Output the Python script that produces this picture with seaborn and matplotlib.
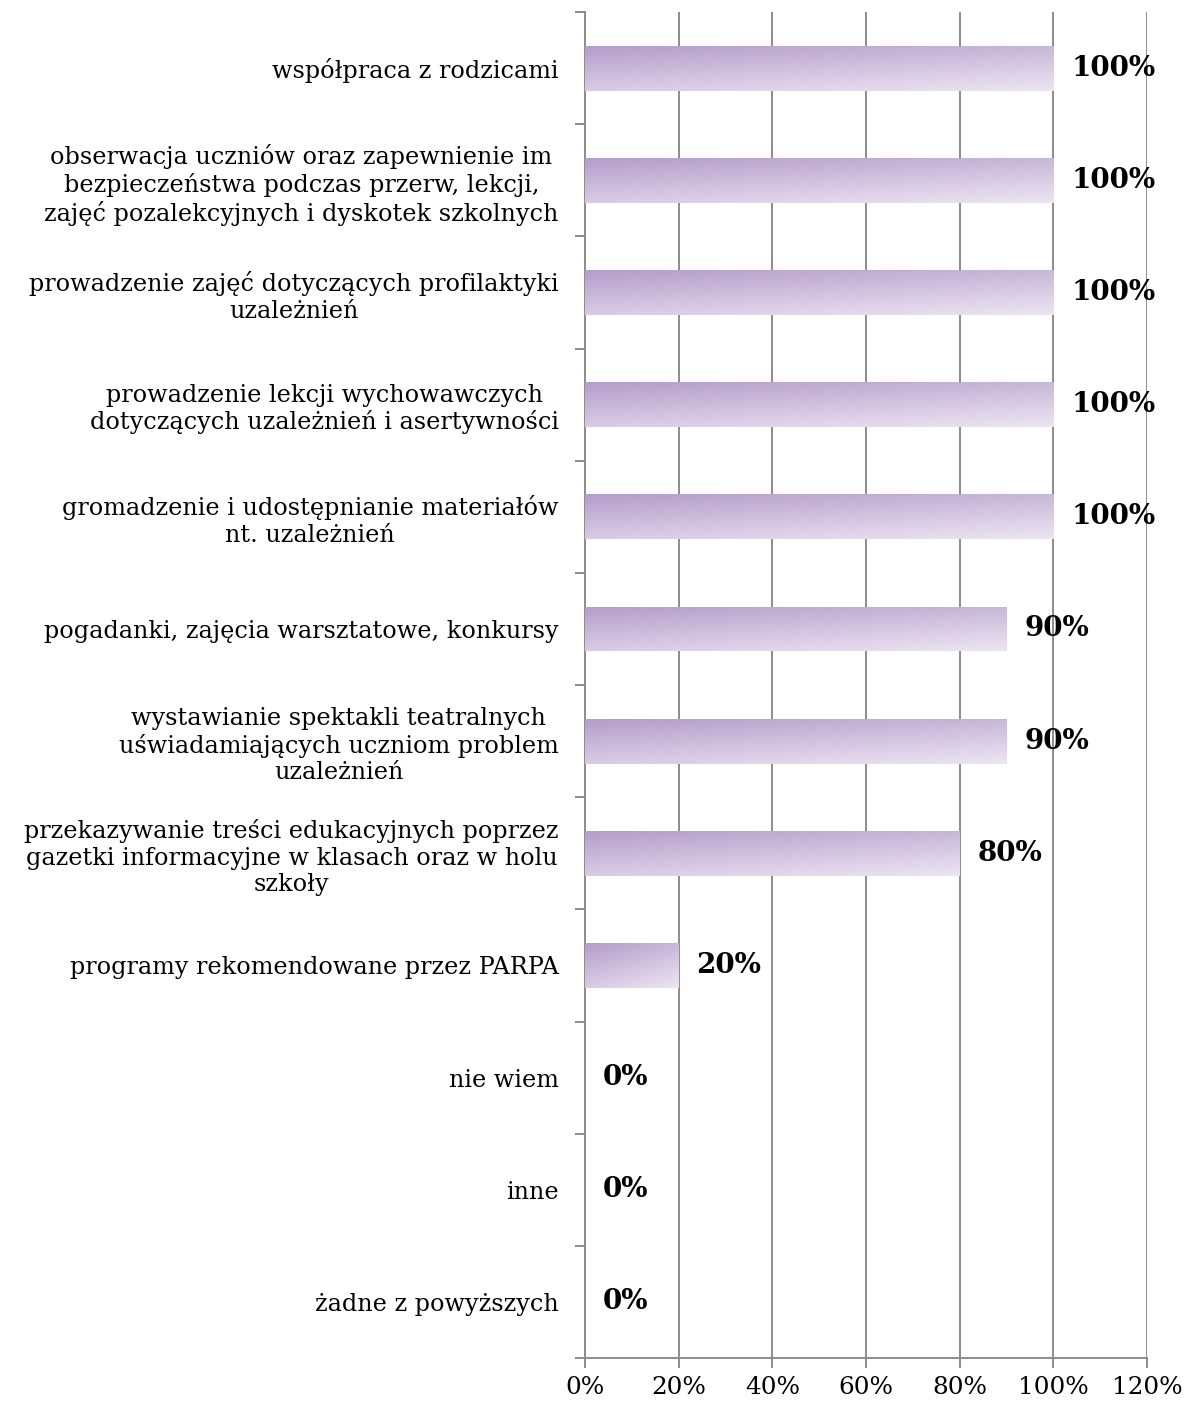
import matplotlib
matplotlib.use("Agg")
import matplotlib.pyplot as plt
from matplotlib.colors import LinearSegmentedColormap
import seaborn as sns
import numpy as np
import pandas as pd

# ── Data ──────────────────────────────────────────────
categories = [
    "współpraca z rodzicami",
    "obserwacja uczniów oraz zapewnienie im\nbezpieczeństwa podczas przerw, lekcji,\nzajęć pozalekcyjnych i dyskotek szkolnych",
    "prowadzenie zajęć dotyczących profilaktyki\nuzależnień",
    "prowadzenie lekcji wychowawczych\ndotyczących uzależnień i asertywności",
    "gromadzenie i udostępnianie materiałów\nnt. uzależnień",
    "pogadanki, zajęcia warsztatowe, konkursy",
    "wystawianie spektakli teatralnych\nuświadamiających uczniom problem\nuzależnień",
    "przekazywanie treści edukacyjnych poprzez\ngazetki informacyjne w klasach oraz w holu\nszkoły",
    "programy rekomendowane przez PARPA",
    "nie wiem",
    "inne",
    "żadne z powyższych",
]
values = [100, 100, 100, 100, 100, 90, 90, 80, 20, 0, 0, 0]
x_ticks = [0, 20, 40, 60, 80, 100, 120]
x_tick_labels = ["0%", "20%", "40%", "60%", "80%", "100%", "120%"]

df = pd.DataFrame({"category": categories, "value": values})

# ── Style ─────────────────────────────────────────────
sns.set_style("white")
plt.rcParams["font.family"] = ["DejaVu Serif"]
plt.rcParams["text.color"] = "black"
plt.rcParams["xtick.color"] = "black"
plt.rcParams["ytick.color"] = "black"
GRID = "#8c8c8c"
FS = 17.2

fig = plt.figure(figsize=(11.89, 14.07), dpi=100)
ax = fig.add_axes([0.492, 0.0348, 0.4727, 0.9566])

sns.barplot(data=df, x="value", y="category", orient="h", width=0.4,
            color="#c8b5d9", ax=ax, zorder=3)

# gradient fill clipped to each bar
cmap = LinearSegmentedColormap.from_list("purp", ["#b59dcb", "#ece5f2"])
gy, gx = np.mgrid[0:1:60j, 0:1:200j]
grad = 0.65 * gy + 0.35 * gx
for patch in ax.patches:
    w = patch.get_width()
    patch.set_facecolor("none")
    patch.set_edgecolor("none")
    patch.set_linewidth(0)
    if w <= 0:
        continue
    x0, y0, h = patch.get_x(), patch.get_y(), patch.get_height()
    im = ax.imshow(grad, extent=(x0, x0 + w, y0 + h, y0), origin="upper",
                   aspect="auto", cmap=cmap, vmin=0, vmax=1, zorder=3,
                   interpolation="bilinear")
    im.set_clip_path(patch)

# value labels
for i, v in enumerate(values):
    ax.text(v + 3.8, i, f"{v}%", va="center", ha="left",
            fontsize=20, fontweight="bold", zorder=4)

ax.set_xlim(0, 120)
ax.set_ylim(len(categories) - 0.5, -0.5)
ax.set_xticks(x_ticks)
ax.set_xticklabels(x_tick_labels, fontsize=17.8)
ax.set_yticks(range(len(categories)))
ax.set_yticklabels(categories, fontsize=FS, multialignment="center")
ax.set_yticks(np.arange(-0.5, len(categories), 1), minor=True)
ax.set_xlabel("")
ax.set_ylabel("")

ax.grid(axis="x", color=GRID, linewidth=1.4, zorder=0)
ax.set_axisbelow(True)
for side in ["top", "right"]:
    ax.spines[side].set_visible(False)
for side in ["left", "bottom"]:
    ax.spines[side].set_color(GRID)
    ax.spines[side].set_linewidth(1.4)

ax.tick_params(axis="y", which="major", left=True, length=0, pad=19)
ax.tick_params(axis="y", which="minor", left=True, length=7, width=1.4,
               color=GRID)
ax.tick_params(axis="x", which="major", bottom=True, length=7, width=1.4,
               color=GRID, pad=6, direction="out")

plt.savefig("out.png", dpi=100)
plt.close()
